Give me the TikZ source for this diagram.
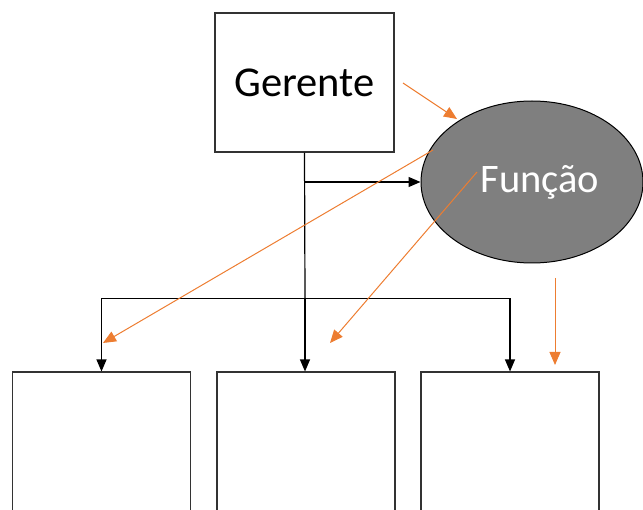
\documentclass[tikz,border=0pt]{standalone}
\usepackage{fontspec}
\setmainfont{Carlito}
\usetikzlibrary{arrows.meta,shapes.geometric}
\definecolor{orng}{HTML}{ED7D31}
\definecolor{gry}{HTML}{7F7F7F}
\tikzset{
  boxnode/.style={draw=black!80, line width=1.1pt, fill=white, inner sep=0pt},
  blackarrow/.style={draw=black, line width=1.2pt, -{Triangle[length=12pt,width=10pt]}},
  blackline/.style={draw=black, line width=1.2pt},
  orangearrow/.style={draw=orng, line width=1pt, -{Triangle[length=13pt,width=11pt]}},
}
\begin{document}
\begin{tikzpicture}[x=1pt,y=-1pt]
\useasboundingbox (0,0) rectangle (643,510);
\node[boxnode, minimum width=179pt, minimum height=139pt, font=\fontsize{42.5}{50}\selectfont] (ger) at (304.5,82.5) {Gerente};
\node[draw=black, line width=1pt, fill=gry, ellipse, minimum width=222pt, minimum height=162pt, inner sep=0pt, text=white, font=\fontsize{40.5}{49}\selectfont] (fn) at (532,182) {\hspace*{16pt}Função};
\node[boxnode, minimum width=178pt, minimum height=142pt] (b1) at (101.5,443) {};
\node[boxnode, minimum width=178pt, minimum height=142pt] (b2) at (306,443) {};
\node[boxnode, minimum width=178pt, minimum height=142pt] (b3) at (510,443) {};
\coordinate (j) at (305,298.5);
\coordinate (k) at (305,182);
\draw[blackline] (ger.south) -- (j);
\draw[blackarrow] (k) -- (fn.west);
\draw[blackarrow] (j) -| (b1.north);
\draw[blackarrow] (j) -- (j |- b2.north);
\draw[blackarrow] (j) -| (b3.north);
\coordinate (o1s) at (403,83);
\coordinate (o1e) at (457,119);
\coordinate (o2s) at (433,150);
\coordinate (o2e) at (103,343);
\coordinate (o3s) at (477,172);
\coordinate (o3e) at (330,343);
\coordinate (o4s) at (555,278);
\coordinate (o4e) at (555,365);
\draw[orangearrow] (o1s) -- (o1e);
\draw[orangearrow] (o2s) -- (o2e);
\draw[orangearrow] (o3s) -- (o3e);
\draw[orangearrow] (o4s) -- (o4e);
\end{tikzpicture}
\end{document}
